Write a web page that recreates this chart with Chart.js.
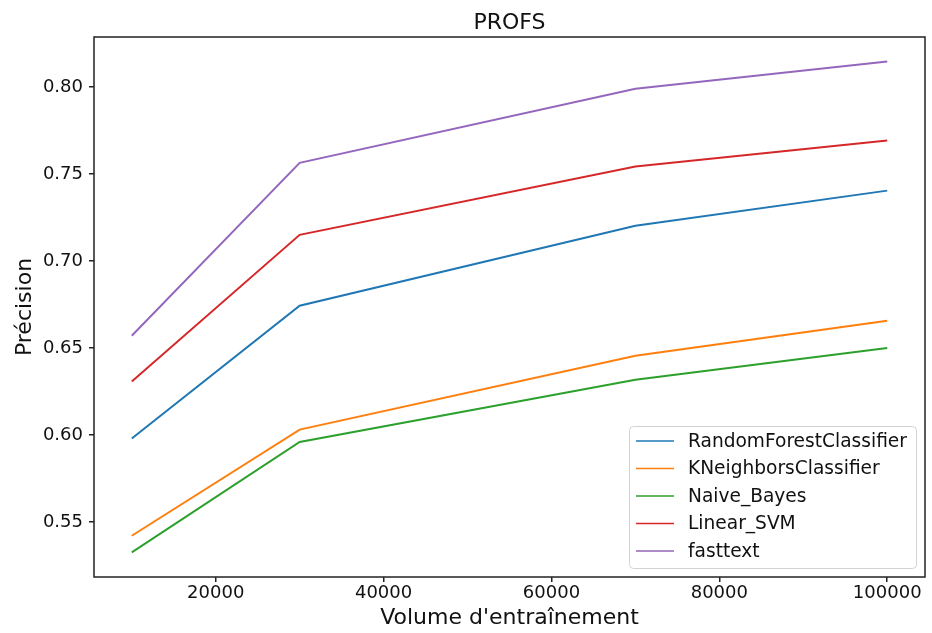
<!DOCTYPE html>
<html>
<head>
<meta charset="utf-8">
<title>PROFS</title>
<script src="https://cdn.jsdelivr.net/npm/chart.js@4/dist/chart.umd.min.js"></script>
<style>
    html, body { margin: 0; padding: 0; background: #fff; }
    #wrap { width: 932px; height: 633px; }
</style>
</head>
<body>
<div id="wrap"><canvas id="profsChart" width="932" height="633"></canvas></div>
<script>
// Data
const volumes = [10000, 30000, 70000, 100000];
const randomForest = [0.598, 0.6743, 0.7203, 0.7405];
const kNeighbors = [0.5421, 0.6031, 0.6456, 0.6657];
const naiveBayes = [0.5325, 0.596, 0.6318, 0.650];
const linearSvm = [0.6308, 0.7151, 0.7544, 0.7693];
const fasttext = [0.6571, 0.7565, 0.799, 0.8147];

const seriesNames = ["RandomForestClassifier", "KNeighborsClassifier", "Naive_Bayes", "Linear_SVM", "fasttext"];
const seriesColors = ["#1f77b4", "#ff7f0e", "#2ca02c", "#d62728", "#9467bd"];
const xTickValues = [20000, 40000, 60000, 80000, 100000];
const yTickValues = [0.55, 0.60, 0.65, 0.70, 0.75, 0.80];
const chartTitle = "PROFS";

(function () {
    const FONT = "'DejaVu Sans', sans-serif";
    const allSeries = [randomForest, kNeighbors, naiveBayes, linearSvm, fasttext];

    const datasets = allSeries.map((values, i) => ({
        label: seriesNames[i],
        data: values.map((v, j) => ({ x: volumes[j], y: v })),
        borderColor: seriesColors[i],
        backgroundColor: seriesColors[i],
        borderWidth: 2,
        pointRadius: 0,
        tension: 0,
        fill: false
    }));

    // matplotlib style: 5% margins around the data
    const allY = allSeries.flat();
    const yMinData = Math.min(...allY), yMaxData = Math.max(...allY);
    const yPad = (yMaxData - yMinData) * 0.05;
    const xPad = (volumes[volumes.length - 1] - volumes[0]) * 0.05;

    // Axes box + title centred over the axes
    const frame = {
        id: "frame",
        afterDraw(chart) {
            const { ctx, chartArea: a } = chart;
            ctx.save();
            ctx.strokeStyle = "#222";
            ctx.lineWidth = 1.5;
            ctx.strokeRect(a.left, a.top, a.right - a.left, a.bottom - a.top);
            ctx.fillStyle = "#111";
            ctx.font = "22px " + FONT;
            ctx.textAlign = "center";
            ctx.textBaseline = "alphabetic";
            ctx.fillText(chartTitle, (a.left + a.right) / 2, 29);
            ctx.restore();
        }
    };

    // Legend in the lower right corner of the axes
    const innerLegend = {
        id: "innerLegend",
        afterDatasetsDraw(chart) {
            const { ctx, chartArea: a } = chart;
            const w = 287, h = 142;
            const x = a.right - 9 - w, y = a.bottom - 9 - h;
            ctx.save();
            ctx.beginPath();
            ctx.roundRect(x + 0.5, y + 0.5, w, h, 4);
            ctx.fillStyle = "rgba(255,255,255,0.85)";
            ctx.fill();
            ctx.strokeStyle = "#d3d3d3";
            ctx.lineWidth = 1;
            ctx.stroke();
            ctx.font = "18.6px " + FONT;
            ctx.textBaseline = "middle";
            ctx.textAlign = "left";
            chart.data.datasets.forEach((ds, i) => {
                const ry = y + 15 + i * 27.5;
                ctx.strokeStyle = ds.borderColor;
                ctx.lineWidth = 1.5;
                ctx.beginPath();
                ctx.moveTo(x + 7, ry);
                ctx.lineTo(x + 45, ry);
                ctx.stroke();
                ctx.fillStyle = "#111";
                ctx.fillText(ds.label, x + 59, ry + 1);
            });
            ctx.restore();
        }
    };

    new Chart(document.getElementById("profsChart"), {
        type: "line",
        data: { datasets: datasets },
        plugins: [frame, innerLegend],
        options: {
            responsive: false,
            animation: false,
            layout: { padding: { top: 37, right: 7, bottom: 0, left: 0 } },
            plugins: {
                legend: { display: false },
                tooltip: { enabled: false },
                title: { display: false }
            },
            scales: {
                x: {
                    type: "linear",
                    min: volumes[0] - xPad,
                    max: volumes[volumes.length - 1] + xPad,
                    afterBuildTicks: scale => { scale.ticks = xTickValues.map(v => ({ value: v })); },
                    afterFit: scale => { scale.height = 56; },
                    grid: { drawOnChartArea: false, drawTicks: true, tickLength: 5, color: "#222", lineWidth: 1.5 },
                    border: { display: false },
                    ticks: {
                        color: "#111",
                        padding: 1,
                        maxRotation: 0,
                        autoSkip: false,
                        font: { family: FONT, size: 18 },
                        callback: v => String(v)
                    },
                    title: {
                        display: true,
                        text: "Volume d'entraînement",
                        color: "#111",
                        font: { family: FONT, size: 22 },
                        padding: { top: 0, bottom: 2 }
                    }
                },
                y: {
                    type: "linear",
                    min: yMinData - yPad,
                    max: yMaxData + yPad,
                    afterBuildTicks: scale => { scale.ticks = yTickValues.map(v => ({ value: v })); },
                    afterFit: scale => { scale.width = 94; },
                    grid: { drawOnChartArea: false, drawTicks: true, tickLength: 5, color: "#222", lineWidth: 1.5 },
                    border: { display: false },
                    ticks: {
                        color: "#111",
                        padding: 6,
                        autoSkip: false,
                        font: { family: FONT, size: 18 },
                        callback: v => Number(v).toFixed(2)
                    },
                    title: {
                        display: true,
                        text: "Précision",
                        color: "#111",
                        font: { family: FONT, size: 22 },
                        padding: { top: 12, bottom: 0 }
                    }
                }
            }
        }
    });
})();
</script>
</body>
</html>
